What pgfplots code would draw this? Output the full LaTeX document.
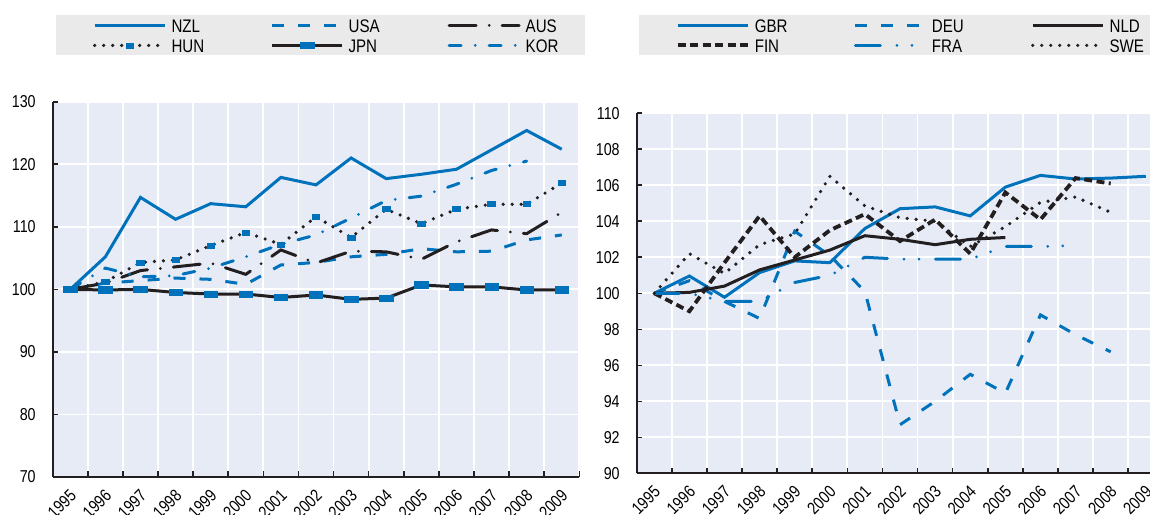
\documentclass[border=0pt]{standalone}
\usepackage{fontspec}
\setmainfont{Liberation Sans}[FakeStretch=0.83]
\usepackage{pgfplots}
\pgfplotsset{compat=1.18}
\definecolor{oblue}{RGB}{0,114,188}
\definecolor{oblack}{RGB}{35,31,32}
\definecolor{bgc}{RGB}{230,235,246}
\definecolor{lgray}{RGB}{234,234,234}
\newcommand{\tickfont}{\fontsize{8.6}{10}\selectfont}
\newcommand{\legfont}{\fontsize{9.1}{10}\selectfont}
\pgfplotsset{
  oecd/.style={
    scale only axis, anchor=south west,
    axis lines*=left,
    axis line style={oblack, line width=1pt},
    axis background/.style={fill=bgc},
    xmin=1994.5,
    xtick={1994.5,1995.5,...,2009.5},
    xticklabels={},
    extra x ticks={1995,1996,...,2009},
    extra x tick labels={1995,1996,1997,1998,1999,2000,2001,2002,2003,2004,2005,2006,2007,2008,2009},
    extra x tick style={major tick length=0pt, grid=none},
    x tick label style={rotate=45, anchor=north east, font=\tickfont, xshift=-1pt},
    y tick label style={font=\tickfont, xshift=-5pt},
    /pgf/number format/assume math mode=true,
    tick align=inside,
    major tick length=2.8pt,
    tick style={oblack, line width=0.8pt},
    grid style={white, line width=0.9pt},
    xmajorgrids=true, ymajorgrids=true,
    legend columns=3,
    legend cell align=left,
    legend style={anchor=north west, fill=lgray, draw=none, inner xsep=18.5pt, inner ysep=0pt,
       font=\legfont,
       /tikz/every odd column/.append style={column sep=2.5pt},
       nodes={inner sep=0pt, text height=8.33pt, text depth=1.67pt}},
    legend image code/.code={\draw[mark repeat=2,mark phase=2,##1] plot coordinates {(0pt,0pt) (17.5pt,0pt) (35pt,0pt)};},
  },
  solidl/.style={line width=1.5pt},
  dashedl/.style={line width=1.5pt, dash pattern=on 6pt off 7pt},
  dashdotl/.style={line width=1.5pt, line cap=round, dash pattern=on 13.5pt off 6.5pt on 0pt off 6.5pt},
  dashdotk/.style={line width=1.5pt, line cap=round, dash pattern=on 6pt off 7pt on 0pt off 7pt},
  dottedl/.style={line width=1.8pt, line cap=round, dash pattern=on 0pt off 4.5pt},
  fral/.style={line width=1.5pt, line cap=round, dash pattern=on 12.5pt off 8.25pt on 0pt off 7.5pt on 0pt off 8.25pt},
  finl/.style={line width=1.9pt, dash pattern=on 4pt off 2.2pt},
}
\begin{document}
\begin{tikzpicture}
\useasboundingbox (0,0) rectangle (575pt,257pt);
% ---------------- left panel ----------------
\begin{axis}[oecd,
  at={(26.35pt,18.5pt)}, width=263.3pt, height=187.65pt,
  xmax=2009.5, ymin=70, ymax=130, ytick={70,80,...,130},
  legend style={at={(0.00532,1.231)}},
]
\addplot[oblue, solidl] coordinates {(1995,100) (1996,105.2) (1997,114.7) (1998,111.2) (1999,113.7) (2000,113.2) (2001,117.9) (2002,116.7) (2003,121.0) (2004,117.7) (2005,118.4) (2006,119.2) (2007,122.3) (2008,125.4) (2009,122.4)};
\addlegendentry{\makebox[49.55pt][l]{NZL}}
\addplot[oblue, dashedl] coordinates {(1995,100) (1996,101.0) (1997,101.4) (1998,101.8) (1999,101.6) (2000,100.8) (2001,103.9) (2002,104.3) (2003,105.2) (2004,105.6) (2005,106.5) (2006,106.0) (2007,106.1) (2008,107.9) (2009,108.7)};
\addlegendentry{\makebox[49.55pt][l]{USA}}
\addplot[oblack, dashdotl] coordinates {(1995,100) (1996,101.0) (1997,103.0) (1998,103.6) (1999,104.2) (2000,102.4) (2001,106.3) (2002,104.2) (2003,106.1) (2004,106.0) (2005,104.8) (2006,107.6) (2007,109.5) (2008,108.9) (2009,112.3)};
\addlegendentry{\makebox[11.25pt][l]{AUS}}
\addplot[oblack, dottedl, mark=square*, mark size=1.25pt, mark options={solid, fill=oblue, draw=oblue, line width=0.3pt, xscale=1.5}] coordinates {(1995,100) (1996,101.2) (1997,104.3) (1998,104.7) (1999,107.0) (2000,109.1) (2001,107.2) (2002,111.6) (2003,108.3) (2004,112.8) (2005,110.5) (2006,112.8) (2007,113.6) (2008,113.6) (2009,117.0)};
\addlegendentry{\makebox[49.55pt][l]{HUN}}
\addplot[oblack, solidl, mark=square*, mark size=1.6pt, mark options={solid, fill=oblue, draw=oblue, line width=0.3pt, xscale=2.1}] coordinates {(1995,100) (1996,99.9) (1997,100.0) (1998,99.5) (1999,99.25) (2000,99.25) (2001,98.7) (2002,99.1) (2003,98.4) (2004,98.6) (2005,100.7) (2006,100.4) (2007,100.4) (2008,99.9) (2009,99.9)};
\addlegendentry{\makebox[49.55pt][l]{JPN}}
\addplot[oblue, dashdotk] coordinates {(1995,100) (1996,103.4) (1997,102.0) (1998,102.2) (1999,103.4) (2000,105.2) (2001,107.2) (2002,108.7) (2003,111.4) (2004,114.2) (2005,114.9) (2006,116.8) (2007,119.0) (2008,120.5)};
\addlegendentry{\makebox[11.25pt][l]{KOR}}
\end{axis}
% ---------------- right panel ----------------
\begin{axis}[oecd,
  at={(318.35pt,20.35pt)}, width=256.65pt, height=180pt,
  xmax=2009.12, ymin=90, ymax=110, ytick={90,92,...,110},
  legend style={at={(0.0037,1.2731)}},
]
\addplot[oblue, solidl] coordinates {(1995,100) (1996,100.96) (1997,99.78) (1998,101.15) (1999,101.8) (2000,101.7) (2001,103.6) (2002,104.7) (2003,104.8) (2004,104.3) (2005,105.9) (2006,106.55) (2007,106.35) (2008,106.4) (2009,106.5)};
\addlegendentry{\makebox[49.55pt][l]{GBR}}
\addplot[oblue, dashedl] coordinates {(1995,100) (1996,100.7) (1997,99.55) (1998,98.6) (1999,103.45) (2000,102.1) (2001,100.1) (2002,92.7) (2003,94.0) (2004,95.5) (2005,94.45) (2006,98.8) (2007,97.7) (2008,96.75)};
\addlegendentry{\makebox[49.55pt][l]{DEU}}
\addplot[oblack, solidl] coordinates {(1995,100) (1996,100.05) (1997,100.4) (1998,101.3) (1999,101.85) (2000,102.4) (2001,103.2) (2002,103.0) (2003,102.7) (2004,103.0) (2005,103.1)};
\addlegendentry{\makebox[4.7pt][l]{NLD}}
\addplot[oblack, finl] coordinates {(1995,100) (1996,99.0) (1997,101.7) (1998,104.3) (1999,102.0) (2000,103.5) (2001,104.4) (2002,102.9) (2003,104.1) (2004,102.2) (2005,105.6) (2006,104.1) (2007,106.4) (2008,106.1)};
\addlegendentry{\makebox[49.55pt][l]{FIN}}
\addplot[oblue, fral] coordinates {(1995,100) (1996,100.0) (1997,99.55) (1998,99.55) (1999,100.6) (2000,101.0) (2001,102.0) (2002,101.9) (2003,101.9) (2004,101.9) (2005,102.6) (2006,102.6) (2007,102.65)};
\addlegendentry{\makebox[49.55pt][l]{FRA}}
\addplot[oblack, dottedl] coordinates {(1995,100) (1996,102.2) (1997,101.1) (1998,102.7) (1999,103.3) (2000,106.5) (2001,104.85) (2002,104.2) (2003,104.0) (2004,102.6) (2005,103.7) (2006,105.05) (2007,105.35) (2008,104.5)};
\addlegendentry{\makebox[4.7pt][l]{SWE}}
\end{axis}
\end{tikzpicture}
\end{document}
